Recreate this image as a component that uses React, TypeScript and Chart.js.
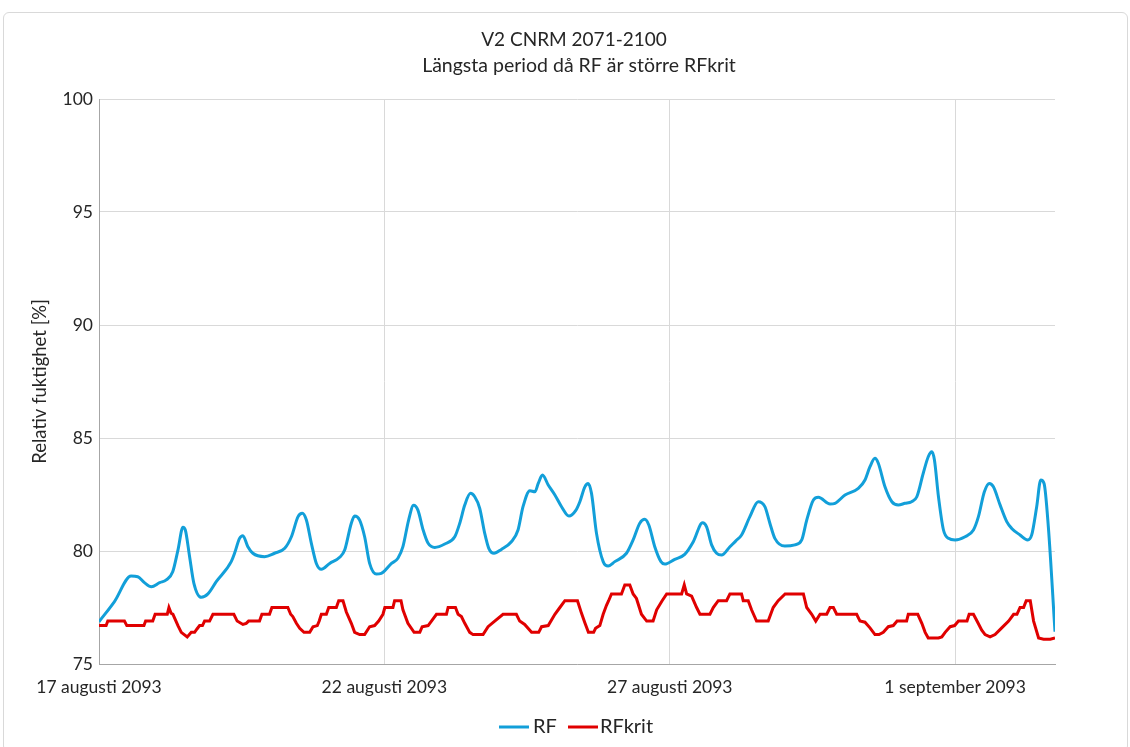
import { useEffect, useRef } from "react";
import { Chart, registerables } from "chart.js";

Chart.register(...registerables);

const titleLines = ["V2 CNRM 2071-2100", "Längsta period då RF är större RFkrit"];
const yAxisTitle = "Relativ fuktighet [%]";
const seriesNames = ["RF", "RFkrit"];
const xTickHours = [0, 120, 240, 360];
const xTickLabels = ["17 augusti 2093", "22 augusti 2093", "27 augusti 2093", "1 september 2093"];
const yMin = 75;
const yMax = 100;
const xMaxHours = 402;

// hours since 17 augusti 2093 00:00
const rfHours = [
  0, 6.5, 13.5, 16.3, 19.1, 22, 25.5, 28.3, 31, 33.2, 35.3, 36.3, 38.1, 39.9, 43, 45.8, 49.3, 55.6, 57, 59.1,
  60.5, 62.6, 64.7, 69.6, 73.8, 78.1, 80.9, 83.7, 85.5, 87.2, 89.3, 91.4, 93.5, 97, 101.2, 103.3, 106.1, 107.5,
  109.6, 111.7, 113.8, 116.6, 118.7, 123, 125.7, 127.8, 130.2, 132.3, 134.1, 136.3, 138.4, 141.2, 145.4, 149.6,
  151.7, 153.8, 156.2, 158, 160.1, 162.2, 163.9, 166.1, 169.2, 173.4, 176.2, 178.3, 181.2, 183.3, 184.7, 186.5,
  188.9, 191.7, 194.5, 197.6, 200.5, 202.2, 204.3, 205.7, 207.1, 209.2, 212, 214.1, 216.9, 221.8, 224.6, 227.4,
  229.5, 231.2, 233.7, 236.3, 237.9, 242.1, 246.3, 249.9, 253.8, 255.5, 257.6, 259.7, 261.8, 265.3, 267.8, 270.2,
  273.7, 277.2, 280, 282.1, 284.2, 288.4, 292.6, 295.5, 297.6, 300.4, 302.5, 307.4, 309.5, 313.7, 319.3, 322.1,
  324.2, 326.3, 327.7, 330.5, 333.4, 336.1, 338.9, 341.7, 343.9, 346.6, 348.7, 350.2, 351.3, 353, 355.1, 357.2,
  360, 364.2, 367.7, 369.8, 372.3, 374.4, 376.1, 378.9, 381.7, 383.8, 387.3, 390.5, 392.2, 394.3, 396, 397.4,
  399.2, 402,
];
const rfValues = [
  76.87, 77.76, 78.89, 78.86, 78.6, 78.42, 78.6, 78.72, 79.08, 80.04, 81.05, 80.93, 79.75, 78.57, 77.95, 78.1, 78.64, 79.53, 79.9, 80.56,
  80.68, 80.19, 79.9, 79.75, 79.9, 80.12, 80.63, 81.52, 81.67, 81.37, 80.34, 79.45, 79.19, 79.45, 79.72, 80.04, 81.23, 81.55,
  81.37, 80.63, 79.45, 78.98, 79.01, 79.45, 79.68, 80.19, 81.37, 82.02, 81.81, 80.93, 80.34, 80.16, 80.31, 80.63,
  81.23, 82.03, 82.55, 82.4, 81.89, 80.78, 80.12, 79.9, 80.07, 80.41, 80.93, 81.96, 82.67, 82.62, 82.99, 83.36,
  82.92, 82.48, 81.96, 81.55, 81.8, 82.18, 82.84, 82.99, 82.55, 80.78, 79.53, 79.34, 79.53, 79.9, 80.49, 81.23,
  81.4, 81.15, 80.19, 79.53, 79.42, 79.63, 79.85, 80.41, 81.25, 81.07, 80.27, 79.9, 79.82, 80.19, 80.45, 80.71,
  81.52, 82.18, 81.96, 81.23, 80.56, 80.22, 80.27, 80.49, 81.37, 82.26, 82.38, 82.08, 82.11, 82.48, 82.77, 83.14,
  83.73, 84.1, 83.88, 82.84, 82.18, 82.04, 82.11, 82.18, 82.4, 83.44, 84.17, 84.39, 84.03, 82.4, 80.93, 80.56,
  80.49, 80.63, 80.93, 81.52, 82.62, 82.99, 82.84, 82.04, 81.3, 81.0, 80.71, 80.49, 80.71, 81.96, 83.14, 82.99,
  81.07, 76.43,
];

const krHours = [
  0, 3, 3.7, 10.7, 11.7, 18.9, 19.6, 22.6, 23.6, 28.7, 29.4, 30.3, 31.1, 33.2, 34.6, 37.1, 38.8, 40.2, 41.2, 42.3,
  43.5, 44.4, 46.5, 47.9, 56.7, 58.1, 60.5, 61.9, 62.9, 67.5, 68.5, 71.7, 72.7, 79.4, 80.6, 81.5, 83, 84.4, 86.2,
  88.6, 90, 91.8, 92.6, 93.5, 95.6, 96.6, 99.8, 100.8, 102.6, 104, 106.1, 107.5, 109.6, 111.7, 113.8, 115.9, 117.6,
  119.4, 120.2, 123.6, 124.3, 127, 127.8, 129.9, 132.5, 134.9, 135.9, 138.4, 139.8, 141.9, 146.1, 146.8, 149.9,
  151, 152.4, 153.8, 155.9, 157.3, 161.5, 163.6, 166.4, 169.9, 175.5, 176.9, 179, 181.9, 184.9, 186.1, 188.9,
  191.7, 193.8, 195.9, 201.2, 202.9, 204.3, 205.8, 208, 208.8, 210.6, 212, 213.4, 214.3, 215.5, 219.7, 221.1,
  223.2, 224.6, 226, 228.1, 230.3, 233, 234.5, 236.8, 238.7, 245, 246.1, 247.1, 249.2, 251.3, 252.7, 256.9,
  258.3, 260.4, 263.9, 265.3, 270.2, 270.9, 273, 274.4, 276.5, 281.4, 283.5, 285.6, 288.5, 296.2, 297.6, 299.7,
  301.4, 303.2, 306, 307.4, 308.8, 310.2, 318.6, 320, 322.1, 324.2, 326.3, 328, 329.8, 331.9, 334, 335.6, 339.6,
  340.3, 344.3, 346, 347.4, 348.7, 353, 354.4, 355.8, 357.9, 359.8, 361.4, 365, 365.9, 367.7, 369.2, 371.2,
  372.6, 374.7, 376.8, 379.6, 382.5, 384.6, 386, 387.3, 388.8, 389.9, 391.6, 393, 395.1, 397.2, 400, 402,
];
const krValues = [
  76.7, 76.7, 76.9, 76.9, 76.7, 76.7, 76.9, 76.9, 77.2, 77.2, 77.5, 77.25, 77.2, 76.7, 76.4, 76.2, 76.4, 76.4, 76.55, 76.7,
  76.7, 76.9, 76.9, 77.2, 77.2, 76.9, 76.75, 76.8, 76.9, 76.9, 77.2, 77.2, 77.5, 77.5, 77.2, 77.1, 76.8, 76.58, 76.4,
  76.4, 76.65, 76.7, 76.9, 77.2, 77.2, 77.5, 77.5, 77.8, 77.8, 77.3, 76.8, 76.4, 76.3, 76.3, 76.65, 76.7, 76.9,
  77.2, 77.5, 77.5, 77.8, 77.8, 77.4, 76.8, 76.4, 76.4, 76.65, 76.7, 76.9, 77.2, 77.2, 77.5, 77.5,
  77.2, 77.1, 76.8, 76.4, 76.3, 76.3, 76.65, 76.9, 77.2, 77.2, 76.9, 76.75, 76.4, 76.4, 76.65, 76.7,
  77.2, 77.5, 77.8, 77.8, 77.24, 76.83, 76.4, 76.4, 76.58, 76.7, 77.2, 77.6, 77.8, 78.1, 78.1, 78.5,
  78.5, 78.1, 77.9, 77.2, 76.9, 76.9, 77.4, 77.8, 78.1, 78.1, 78.5, 78.1, 78.0, 77.5, 77.2, 77.2,
  77.5, 77.8, 77.8, 78.1, 78.1, 77.8, 77.8, 77.4, 76.9, 76.9, 77.5, 77.8, 78.1, 78.1, 77.5, 77.2,
  76.9, 77.2, 77.2, 77.5, 77.5, 77.2, 77.2, 76.9, 76.85, 76.6, 76.3, 76.3, 76.4, 76.65, 76.7, 76.9, 76.9,
  77.2, 77.2, 76.8, 76.4, 76.15, 76.15, 76.2, 76.4, 76.65, 76.7, 76.9, 76.9, 77.2, 77.2, 76.9, 76.5,
  76.3, 76.2, 76.3, 76.6, 76.9, 77.2, 77.2, 77.5, 77.5, 77.8, 77.8, 76.9, 76.15, 76.1, 76.1, 76.15,
];

const rfColor = "#129fd9";
const krColor = "#e00000";
const textColor = "#262626";
const fontFamily = "Lato, 'DejaVu Sans', sans-serif";

const overlayPlugin = {
  id: "overlayText",
  afterDraw(chart: any) {
    const { ctx, chartArea } = chart;
    const cx = (chartArea.left + chartArea.right) / 2;
    ctx.save();
    ctx.fillStyle = textColor;
    ctx.textAlign = "center";
    ctx.textBaseline = "middle";
    ctx.font = `19px ${fontFamily}`;
    ctx.fillText(titleLines[0], cx - 3, 40);
    ctx.font = `19.5px ${fontFamily}`;
    ctx.fillText(titleLines[1], cx + 2, 66);

    // legend
    const ly = 727;
    const items = [
      { name: seriesNames[0], color: rfColor, x0: 499, x1: 529, tx: 533 },
      { name: seriesNames[1], color: krColor, x0: 568, x1: 598, tx: 600 },
    ];
    ctx.font = `20px ${fontFamily}`;
    ctx.textAlign = "left";
    for (const it of items) {
      ctx.strokeStyle = it.color;
      ctx.lineWidth = 3;
      ctx.beginPath();
      ctx.moveTo(it.x0, ly);
      ctx.lineTo(it.x1, ly);
      ctx.stroke();
      ctx.fillStyle = textColor;
      ctx.fillText(it.name, it.tx, ly);
    }
    ctx.restore();
  },
};

export default function App() {
  const canvasRef = useRef<HTMLCanvasElement | null>(null);

  useEffect(() => {
    if (!canvasRef.current) return;
    const rfData = rfHours.map((h, i) => ({ x: h, y: rfValues[i] }));
    const krData = krHours.map((h, i) => ({ x: h, y: krValues[i] }));
    const chart = new Chart(canvasRef.current, {
      type: "line",
      data: {
        datasets: [
          {
            label: seriesNames[0],
            data: rfData,
            borderColor: rfColor,
            borderWidth: 3,
            pointRadius: 0,
            cubicInterpolationMode: "monotone",
            fill: false,
          },
          {
            label: seriesNames[1],
            data: krData,
            borderColor: krColor,
            borderWidth: 3,
            pointRadius: 0,
            tension: 0,
            fill: false,
          },
        ],
      },
      options: {
        animation: false,
        responsive: false,
        maintainAspectRatio: false,
        layout: { padding: { top: 99, right: 75, bottom: 0, left: 0 } },
        plugins: {
          legend: { display: false },
          title: { display: false },
          tooltip: { enabled: false },
        },
        scales: {
          x: {
            type: "linear",
            min: 0,
            max: xMaxHours,
            afterFit: (scale: any) => {
              scale.height = 83;
            },
            afterBuildTicks: (scale: any) => {
              scale.ticks = xTickHours.map((v) => ({ value: v }));
            },
            ticks: {
              autoSkip: false,
              maxRotation: 0,
              padding: 13,
              color: textColor,
              font: { family: fontFamily, size: 17.5 },
              callback: (value: any) => {
                const idx = xTickHours.indexOf(Number(value));
                return idx >= 0 ? xTickLabels[idx] : "";
              },
            },
            grid: { color: "#d9d9d9", lineWidth: 1, drawTicks: false },
            border: { color: "#a6a6a6", width: 1 },
          },
          y: {
            min: yMin,
            max: yMax,
            afterFit: (scale: any) => {
              scale.width = 99;
            },
            ticks: {
              stepSize: 5,
              padding: 6,
              color: textColor,
              font: { family: fontFamily, size: 17.5 },
            },
            grid: { color: "#d9d9d9", lineWidth: 1, drawTicks: false },
            border: { color: "#a6a6a6", width: 1 },
            title: {
              display: true,
              text: yAxisTitle,
              color: textColor,
              font: { family: fontFamily, size: 18.5 },
              padding: { top: 29, bottom: 0 },
            },
          },
        },
      },
      plugins: [overlayPlugin],
    });
    return () => chart.destroy();
  }, []);

  return (
    <div style={{ position: "fixed", left: 0, top: 0, width: 1130, height: 747, background: "#fff" }}>
      <div
        style={{
          position: "absolute",
          left: 3,
          top: 12,
          width: 1125,
          height: 740,
          border: "1px solid #d9d9d9",
          borderRadius: 6,
          boxSizing: "border-box",
        }}
      />
      <canvas ref={canvasRef} width={1130} height={747} style={{ position: "absolute", left: 0, top: 0, width: 1130, height: 747 }} />
    </div>
  );
}
